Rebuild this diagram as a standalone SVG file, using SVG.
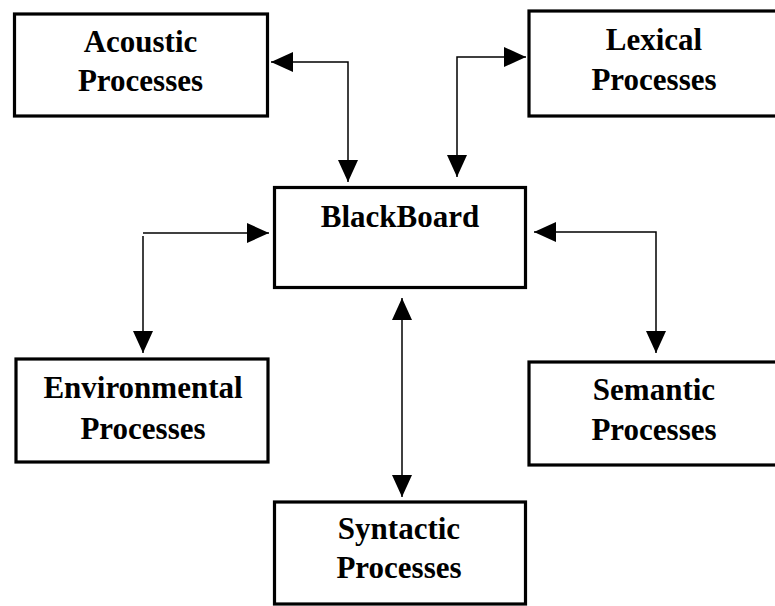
<svg xmlns="http://www.w3.org/2000/svg" width="775" height="606" viewBox="0 0 775 606">
  <style>
    .box { fill: #fff; stroke: #000; stroke-width: 3.2; }
    .lbl { font-family: "Liberation Serif", "Times New Roman", serif; font-weight: bold; font-size: 31px; fill: #000; text-anchor: middle; }
    .wire { fill: none; stroke: #000; stroke-width: 1.5; }
  </style>
  <defs>
    <marker id="head" markerUnits="userSpaceOnUse" markerWidth="22" markerHeight="20" refX="22" refY="10" orient="auto-start-reverse" viewBox="0 0 22 20">
      <path d="M0,0 L22,10 L0,20 Z" fill="#000"/>
    </marker>
  </defs>
  <rect width="775" height="606" fill="#fff"/>

  <g id="connectors">
    <path class="wire" d="M271,62 H348 V182" marker-start="url(#head)" marker-end="url(#head)"/>
    <path class="wire" d="M526,57 H457 V177" marker-start="url(#head)" marker-end="url(#head)"/>
    <path class="wire" d="M143,233 H269" marker-end="url(#head)"/>
    <path class="wire" d="M143,236 V353" marker-end="url(#head)"/>
    <path class="wire" d="M534,232 H656 V353" marker-start="url(#head)" marker-end="url(#head)"/>
    <path class="wire" d="M402,298 V497" marker-start="url(#head)" marker-end="url(#head)"/>
  </g>

  <g id="acoustic">
    <rect class="box" x="14.5" y="14" width="253" height="102"/>
    <text class="lbl" x="140.5" y="52">Acoustic</text>
    <text class="lbl" x="140.5" y="91">Processes</text>
  </g>

  <g id="lexical">
    <rect class="box" x="529" y="11" width="260" height="105"/>
    <text class="lbl" x="654" y="50">Lexical</text>
    <text class="lbl" x="654" y="90">Processes</text>
  </g>

  <g id="blackboard">
    <rect class="box" x="274.5" y="187.5" width="251" height="100"/>
    <text class="lbl" x="400" y="227">BlackBoard</text>
  </g>

  <g id="environmental">
    <rect class="box" x="16" y="359" width="252" height="103"/>
    <text class="lbl" x="143" y="398">Environmental</text>
    <text class="lbl" x="143" y="439">Processes</text>
  </g>

  <g id="semantic">
    <rect class="box" x="529" y="362" width="260" height="103"/>
    <text class="lbl" x="654" y="400">Semantic</text>
    <text class="lbl" x="654" y="440">Processes</text>
  </g>

  <g id="syntactic">
    <rect class="box" x="274.5" y="502" width="251" height="102"/>
    <text class="lbl" x="399" y="539">Syntactic</text>
    <text class="lbl" x="399" y="578">Processes</text>
  </g>
</svg>
